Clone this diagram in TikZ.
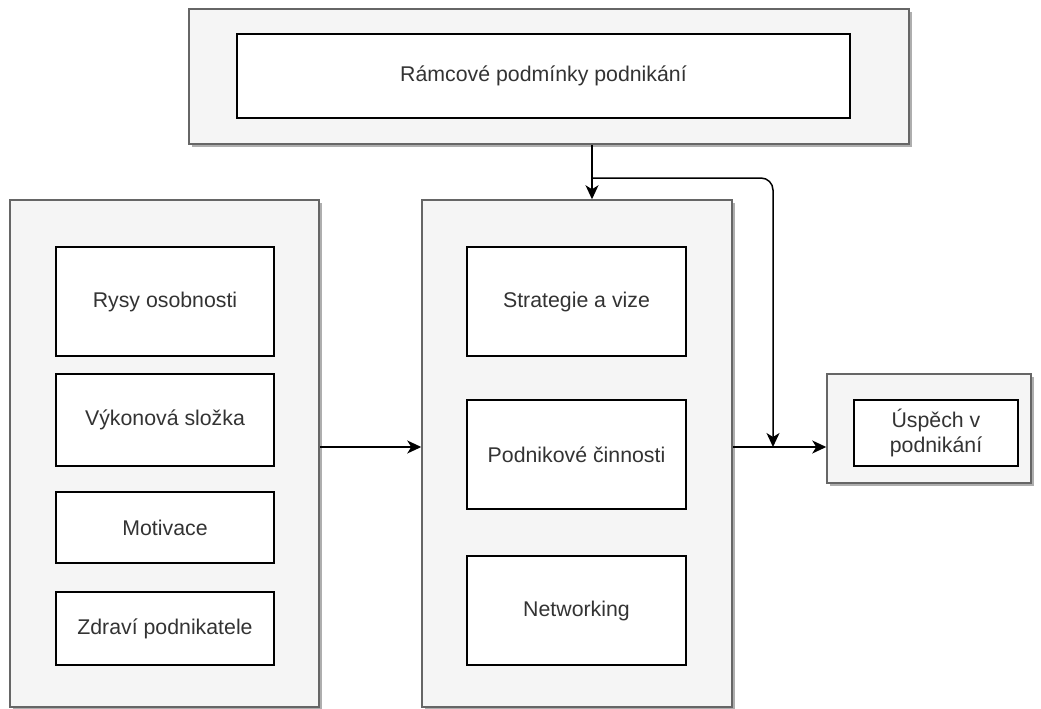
\documentclass[tikz,border=0pt]{standalone}
\usepackage{fontspec}
\setmainfont{Liberation Sans}
\usetikzlibrary{arrows.meta, shadows}
\definecolor{boxgray}{HTML}{F5F5F5}
\definecolor{linegray}{HTML}{666666}
\definecolor{textgray}{HTML}{333333}
\tikzset{outer/.style = {draw = linegray, fill = boxgray, line width = 1.5pt, inner sep = 0,
    drop shadow = {shadow xshift = 3pt, shadow yshift = -3pt, fill = black!70, opacity = 0.45}},
  inner/.style = {draw, fill = white, line width = 1.8pt, inner sep = 0, text = textgray,
    align = center, font = \fontsize{21.3}{25}\selectfont},
  conn/.style = {line width = 1.5pt, -{Stealth[length = 14pt, width = 13pt, inset = 4pt]}}}

\begin{document}
\begin{tikzpicture}[x = 1pt, y = -1pt]
    \useasboundingbox (0, 0) rectangle (1041, 709);
    \clip (0, 0) rectangle (1041, 709);

    % framework conditions
    \node [outer, minimum width = 720pt, minimum height = 135pt] (frame) at (549, 76.5) {};
    \node [inner, minimum width = 613pt, minimum height = 84pt] (rcp) at (543.5, 76) {Rámcové podmínky podnikání};

    % entrepreneur
    \node [outer, minimum width = 309pt, minimum height = 507pt] (person) at (164.5, 453.5) {};
    \foreach \y/\h/\name/\txt in {301.5/109/rysy/Rysy osobnosti, 420/92/vykon/Výkonová složka,
        527.5/71/motiv/Motivace, 628.5/73/zdravi/Zdraví podnikatele} {
      \node [inner, minimum width = 218pt, minimum height = \h pt] (\name) at (165, \y) {\txt};
    }

    % activities
    \node [outer, minimum width = 310pt, minimum height = 507pt] (firm) at (577, 453.5) {};
    \foreach \y/\name/\txt in {301.5/strat/Strategie a vize, 454.5/cinn/Podnikové činnosti,
        610.5/net/Networking} {
      \node [inner, minimum width = 219pt, minimum height = 109pt] (\name) at (576.5, \y) {\txt};
    }

    % result
    \node [outer, minimum width = 204pt, minimum height = 109pt] (result) at (929, 428.5) {};
    \node [inner, minimum width = 164pt, minimum height = 66pt] (uspech) at (936, 433) {Úspěch v\\podnikání};

    \coordinate (split) at (592, 178);
    \coordinate (join) at (773, 447);

    \draw [conn] (frame.south -| split) -- (firm.north -| split);
    \draw [conn, rounded corners = 12pt] (split) -- (split -| join) -- (join);
    \draw [conn] (person.east |- join) -- (firm.west |- join);
    \draw [conn] (firm.east |- join) -- (result.west |- join);
  \end{tikzpicture}
\end{document}
